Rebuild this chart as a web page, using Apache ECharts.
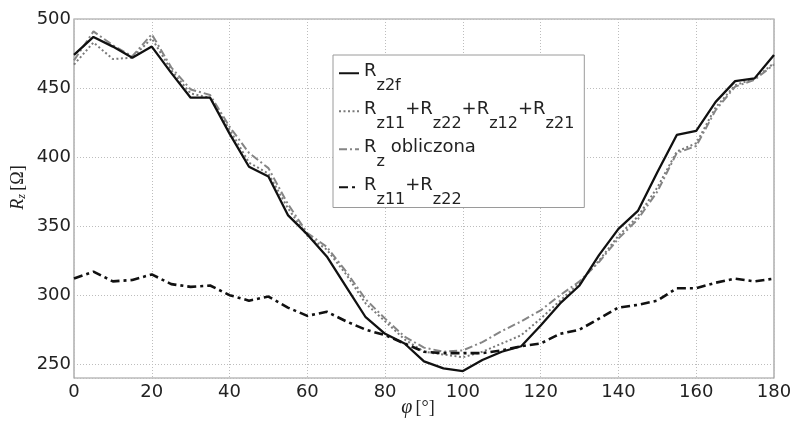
<!DOCTYPE html>
<html><head><meta charset="utf-8">
<script src="https://cdn.jsdelivr.net/npm/echarts@6/dist/echarts.min.js"></script>
<style>html,body{margin:0;padding:0;background:#fff}#c{width:793px;height:422px}</style>
</head><body><div id="c"></div>
<script>
// angle phi [deg]
const angles = [0,5,10,15,20,25,30,35,40,45,50,55,60,65,70,75,80,85,90,95,100,105,110,115,120,125,130,135,140,145,150,155,160,165,170,175,180];
// Rz2f (solid black)
const rz2f = [474,487,480,472,480,461,443,443,417,393,386,358,344,328,306,284,272,265,252,247,245,253,259,263,278,294,307,329,348,361,389,416,419,440,455,457,474];
// Rz11+Rz22+Rz12+Rz21 (dotted grey)
const rzSum4 = [467,483,471,472,486,463,446,443,420,396,388,363,343,333,315,294,281,268,259,257,255,259,265,271,283,296,309,325,343,357,378,404,410,436,452,457,468];
// Rz obliczona (grey dash-dot)
const rzCalc = [470,491,481,473,489,465,449,445,422,403,392,366,345,335,317,297,283,270,262,259,260,266,274,281,289,300,310,324,341,355,375,403,408,434,451,456,467];
// Rz11+Rz22 (black dash-dot)
const rzSum2 = [312,317,310,311,315,308,306,307,300,296,299,291,285,288,281,275,271,265,259,258,258,258,260,263,265,272,275,283,291,293,296,305,305,309,312,310,312];

const seriesNames = ['Rz2f','Rz11+Rz22+Rz12+Rz21','Rz obliczona','Rz11+Rz22'];
const legendLabels = [
  '{b|R}{s|z2f}',
  '{b|R}{s|z11}{b|+R}{s|z22}{b|+R}{s|z12}{b|+R}{s|z21}',
  '{b|R}{s|z}{b| obliczona}',
  '{b|R}{s|z11}{b|+R}{s|z22}'
];
const xTicks = [0,20,40,60,80,100,120,140,160,180];
const yTicks = [250,300,350,400,450,500];
const yMin = 240;

const toPairs = arr => angles.map((a,i)=>[a,arr[i]]);

const chart = echarts.init(document.getElementById('c'), null, {renderer:'canvas'});
const sans = 'DejaVu Sans';
const option = {
  backgroundColor:'#fff',
  animation:false,
  grid:{left:74,right:19,top:19,bottom:44,show:true,borderColor:'#9a9a9a',borderWidth:1.2,backgroundColor:'transparent',
    containLabel:false, outerBoundsMode:'none'},
  xAxis:{
    type:'value', min:xTicks[0], max:xTicks[xTicks.length-1], interval:xTicks[1]-xTicks[0],
    axisLine:{show:false}, axisTick:{show:false},
    axisLabel:{fontFamily:sans,fontSize:18,color:'#222',margin:5},
    splitLine:{show:true,lineStyle:{color:'#bdbdbd',type:[1,2],width:1}},
    name:'{i|φ} {n|[°]}', nameLocation:'middle', nameGap:20, nameMoveOverlap:false,
    nameTextStyle:{padding:[0,12,0,0],rich:{
      i:{fontFamily:'Liberation Serif',fontStyle:'italic',fontSize:20,color:'#222'},
      n:{fontFamily:'Liberation Serif',fontSize:18,color:'#222'}}}
  },
  yAxis:{
    type:'value', min:yMin, max:yTicks[yTicks.length-1], minInterval:50, maxInterval:50,
    axisLine:{show:false}, axisTick:{show:false},
    axisLabel:{fontFamily:sans,fontSize:18,color:'#222',margin:3,
      formatter:v=> yTicks.indexOf(v)>=0 ? String(v) : ''},
    splitLine:{show:true,lineStyle:{color:'#bdbdbd',type:[1,2],width:1}},
    name:'{i|R}{z|z} {n|[Ω]}', nameLocation:'middle', nameGap:46, nameMoveOverlap:false,
    nameTextStyle:{padding:[0,0,0,22],rich:{
      i:{fontFamily:'Liberation Serif',fontStyle:'italic',fontSize:18,color:'#222'},
      z:{fontFamily:'Liberation Serif',fontStyle:'italic',fontSize:12,color:'#222',padding:[8,0,0,0]},
      n:{fontFamily:'Liberation Serif',fontSize:18,color:'#222'}}}
  },
  legend:{
    orient:'vertical', left:333, top:55,
    itemWidth:20, itemHeight:14, itemGap:6.5,
    padding:[7,10,0,5],
    borderColor:'#9a9a9a', borderWidth:1, backgroundColor:'#fff',
    itemStyle:{color:'rgba(0,0,0,0)',borderColor:'rgba(0,0,0,0)',borderWidth:0},
    data:seriesNames,
    formatter:name=>legendLabels[seriesNames.indexOf(name)],
    textStyle:{rich:{
      b:{fontFamily:sans,fontSize:18,color:'#222',verticalAlign:'bottom',padding:[9,0,13.5,0]},
      s:{fontFamily:sans,fontSize:16,color:'#222',verticalAlign:'bottom'}
    }}
  },
  series:[
    {name:seriesNames[0],type:'line',data:toPairs(rz2f),showSymbol:false,symbol:'none',z:5,
      itemStyle:{color:'#111'},lineStyle:{color:'#111',width:2.3,type:'solid'}},
    {name:seriesNames[1],type:'line',data:toPairs(rzSum4),showSymbol:false,symbol:'none',z:3,
      itemStyle:{color:'#7a7a7a'},lineStyle:{color:'#7a7a7a',width:2,type:[2,2.5]}},
    {name:seriesNames[2],type:'line',data:toPairs(rzCalc),showSymbol:false,symbol:'none',z:4,
      itemStyle:{color:'#858585'},lineStyle:{color:'#858585',width:2,type:[8,3,2,3]}},
    {name:seriesNames[3],type:'line',data:toPairs(rzSum2),showSymbol:false,symbol:'none',z:4,
      itemStyle:{color:'#111'},lineStyle:{color:'#111',width:2.6,type:[9,4,3,4]}}
  ]
};
chart.setOption(option);
</script>
</body></html>
